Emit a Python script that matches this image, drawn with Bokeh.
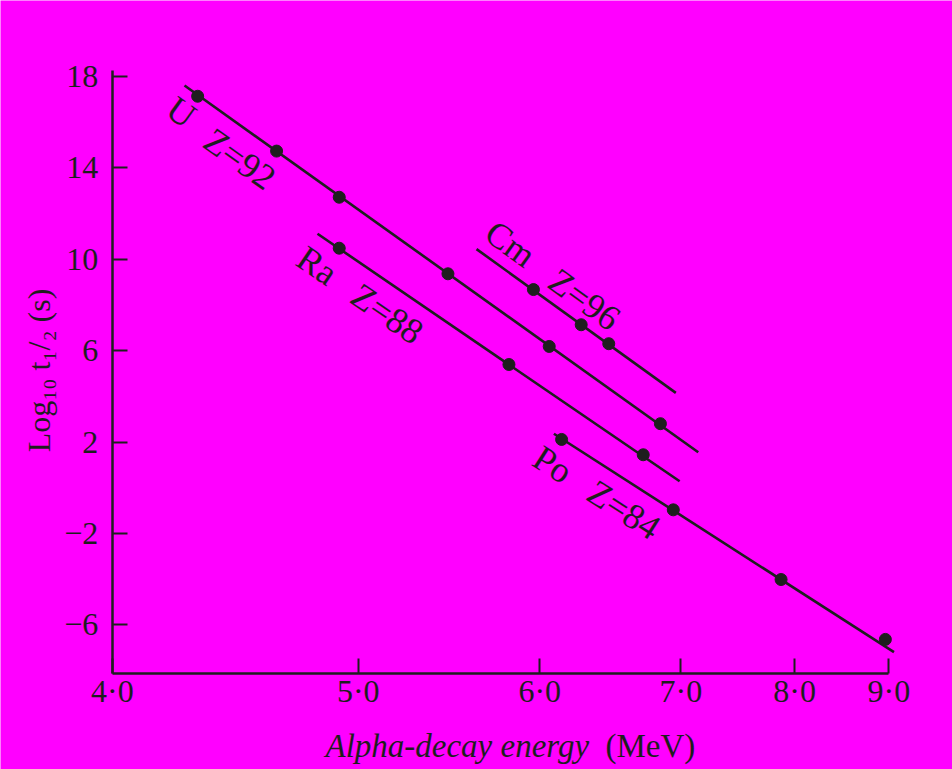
import numpy as np
from bokeh.plotting import figure
from bokeh.models import Range1d, FixedTicker, CustomJSTickFormatter, Label, ColumnDataSource
from bokeh.core.properties import value
from bokeh.embed import file_html
from bokeh.resources import INLINE

# ---- data (alpha-decay energy in MeV, log10 half-life in s) ----
U_E = [4.31, 4.63, 4.91, 5.46, 6.06, 6.84]
U_log = [17.14, 14.74, 12.72, 9.37, 6.19, 2.81]
Ra_E = [4.91, 5.81, 6.71]
Ra_log = [10.49, 5.40, 1.45]
Cm_E = [5.96, 6.27, 6.46]
Cm_log = [8.68, 7.14, 6.31]
Po_E = [6.14, 6.94, 7.87, 8.96]
Po_log = [2.12, -0.96, -4.01, -6.63]

# fitted lines (end points)
U_line_E = [4.26, 7.14]
U_line_log = [17.61, 1.56]
Ra_line_E = [4.81, 6.99]
Ra_line_log = [11.12, 0.29]
Cm_line_E = [5.62, 6.96]
Cm_line_log = [10.45, 4.16]
Po_line_E = [6.09, 9.06]
Po_line_log = [2.37, -7.19]

# series labels
label_text = ["U", "Z=92", "Ra", "Z=88", "Cm", "Z=96", "Po", "Z=84"]
label_E = [4.2475, 4.4766, 4.8088, 5.142, 5.8195, 6.2925, 6.083, 6.5675]
label_log = [16.44, 14.40, 9.73, 7.62, 10.68, 8.245, 1.02, -0.96]
label_angle = [-35.5, -35.5, -34.4, -34.4, -35.9, -35.9, -32.7, -32.7]

x_tick_E = [4.0, 5.0, 6.0, 7.0, 8.0, 9.0]
y_ticks = [-6, -2, 2, 6, 10, 14, 18]

# visible window of the plot
E_left, E_right = 3.642, 9.786
Y_bottom, Y_top = -12.324, 21.330
X_AXIS_AT = -8.136      # log value where the energy axis is drawn
Y_AXIS_TOP = 18.27

BG = "#ff00ff"
INK = "#1e1e1e"
FONT = "Liberation Serif"


def tx(E):
    return 1.0 / np.sqrt(np.asarray(E, dtype=float))


p = figure(
    frame_width=952, frame_height=769,
    min_border_left=0, min_border_right=0, min_border_top=0, min_border_bottom=0,
    x_range=Range1d(tx(E_left), tx(E_right)), y_range=Range1d(Y_bottom, Y_top),
    output_backend="svg", toolbar_location=None,
    background_fill_color=BG, border_fill_color=BG, outline_line_color=None,
)
p.grid.visible = False

for lE, lL in [(U_line_E, U_line_log), (Ra_line_E, Ra_line_log),
               (Cm_line_E, Cm_line_log), (Po_line_E, Po_line_log)]:
    p.line(tx(lE), lL, line_color=INK, line_width=2.6)

for E, L in [(U_E, U_log), (Ra_E, Ra_log), (Cm_E, Cm_log), (Po_E, Po_log)]:
    p.scatter(tx(E), L, size=12, fill_color=INK, line_color=INK)

lab_src = ColumnDataSource(dict(x=tx(label_E), y=label_log, text=label_text, angle=label_angle))
p.text(x="x", y="y", text="text", angle="angle", angle_units="deg", source=lab_src,
       text_font=value(FONT), text_font_size="36px", text_color=INK,
       text_align="center", text_baseline="middle")

# axes, drawn at fixed data locations
xa = p.xaxis[0]
xa.fixed_location = X_AXIS_AT
xa.ticker = FixedTicker(ticks=list(tx(x_tick_E)))
xa.formatter = CustomJSTickFormatter(code="const e = 1/(tick*tick); return e.toFixed(1).replace('.', '\u00b7');")
xa.bounds = (float(tx(9.0)), float(tx(4.0)))
ya = p.yaxis[0]
ya.fixed_location = float(tx(4.0))
ya.ticker = FixedTicker(ticks=y_ticks)
ya.formatter = CustomJSTickFormatter(code="return tick < 0 ? '\u2212' + Math.abs(tick) : String(tick);")
ya.bounds = (X_AXIS_AT, Y_AXIS_TOP)

for ax in (xa, ya):
    ax.axis_line_color = INK
    ax.axis_line_width = 2.5
    ax.major_tick_line_color = INK
    ax.major_tick_line_width = 2
    ax.major_tick_out = 0
    ax.major_tick_in = 15
    ax.minor_tick_line_color = None
    ax.major_label_text_font = FONT
    ax.major_label_text_font_size = "32px"
    ax.major_label_text_color = INK
xa.major_label_standoff = -1
ya.major_label_standoff = 14

# axis titles
p.add_layout(Label(x=325, y=24, x_units="screen", y_units="screen", text="Alpha-decay energy",
                   text_font=FONT, text_font_size="33px", text_font_style="italic",
                   text_color=INK, text_baseline="alphabetic", text_align="left"))
p.add_layout(Label(x=605, y=24, x_units="screen", y_units="screen", text="(MeV)",
                   text_font=FONT, text_font_size="33px", text_color=INK,
                   text_baseline="alphabetic", text_align="left"))
p.add_layout(Label(x=38, y=399, x_units="screen", y_units="screen",
                   text="Log\u2081\u2080 t\u2081/\u2082 (s)", angle=90, angle_units="deg",
                   text_font=FONT, text_font_size="32px", text_color=INK,
                   text_baseline="middle", text_align="center"))

open("out.html", "w").write(file_html(p, INLINE))
